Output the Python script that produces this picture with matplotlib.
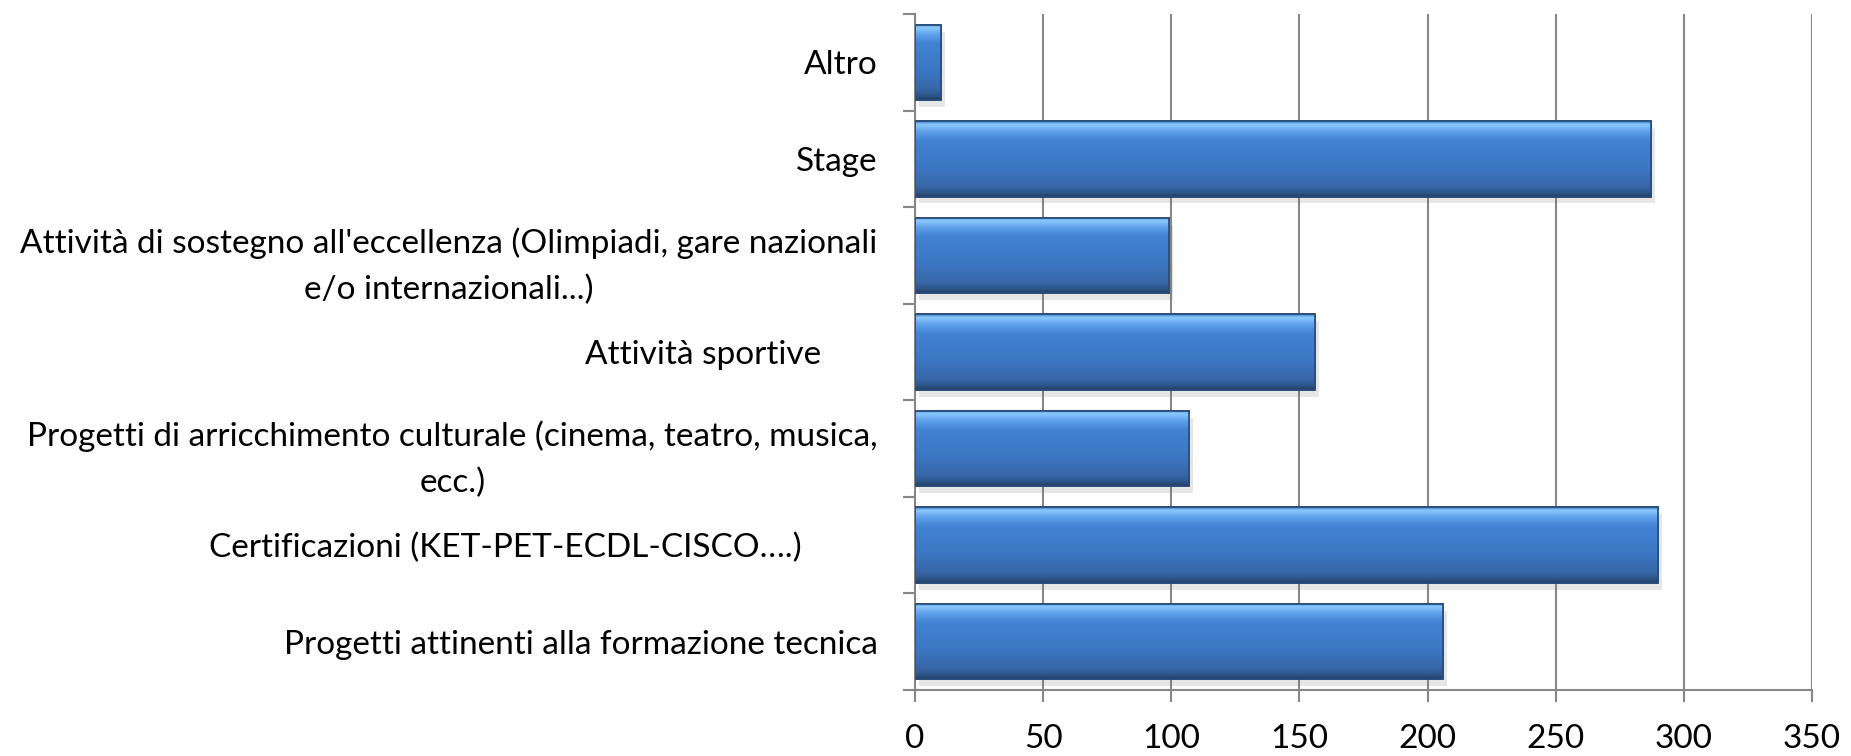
import numpy as np
import matplotlib
matplotlib.use("Agg")
from matplotlib import pyplot as plt
from matplotlib.colors import LinearSegmentedColormap
from matplotlib.transforms import ScaledTranslation
import matplotlib.patheffects as pe

plt.rcParams['font.family'] = ['Lato', 'DejaVu Sans']

# Data (bottom to top)
categories = [
    "Progetti attinenti alla formazione tecnica",
    "Certificazioni (KET-PET-ECDL-CISCO\u2026.)",
    "Progetti di arricchimento culturale (cinema, teatro, musica,\necc.)",
    "Attività sportive",
    "Attività di sostegno all'eccellenza (Olimpiadi, gare nazionali\ne/o internazionali...)",
    "Stage",
    "Altro",
]
values = [206, 290, 107, 156, 99, 287, 10]
x_ticks = [0, 50, 100, 150, 200, 250, 300, 350]

# label shifts to the left, in pixels (the originals had trailing blanks)
label_shift = [0, 76, 0, 56, 0, 0, 0]

W, H = 1851, 756
fig = plt.figure(figsize=(W / 100, H / 100), dpi=100)
ax = fig.add_axes([915 / W, (H - 690) / H, (1812 - 915) / W, (690 - 14) / H])

grey = '#878787'
bar_h = 0.78
y = np.arange(len(categories))

# gradient for the bevelled bars (row 0 = top of bar)
cmap = LinearSegmentedColormap.from_list('bevel', [
    (0.00, '#3a72bd'),
    (0.04, '#8ccaff'),
    (0.14, '#5ea0ea'),
    (0.25, '#4283d4'),
    (0.60, '#3c77c4'),
    (0.86, '#3767a8'),
    (0.93, '#2f5a90'),
    (1.00, '#243f66'),
])
grad = np.linspace(0, 1, 256).reshape(-1, 1)

bars = ax.barh(y, values, height=bar_h, color='#3c78c6', edgecolor='#284b78',
               linewidth=1.2, zorder=2)
for b in bars:
    b.set_path_effects([pe.SimplePatchShadow(offset=(3, -5), shadow_rgbFace='#777777', alpha=0.18),
                        pe.Normal()])
    x0, y0 = b.get_x(), b.get_y()
    w, h = b.get_width(), b.get_height()
    im = ax.imshow(grad, cmap=cmap, extent=(x0, x0 + w, y0, y0 + h), aspect='auto',
                   origin='upper', zorder=2.5, interpolation='bicubic')
    im.set_clip_path(b)
    # outline on top of the gradient
    ax.barh(b.get_y() + h / 2, w, height=h, left=x0, color='none',
            edgecolor='#284b78', linewidth=1.2, zorder=3)

ax.set_xlim(0, 350)
ax.set_ylim(-0.5, len(categories) - 0.5)
ax.set_xticks(x_ticks)
ax.set_xticklabels([str(t) for t in x_ticks], fontsize=24)
ax.set_yticks(y)
ax.set_yticklabels(categories, fontsize=24, multialignment='center', linespacing=1.65)
ax.set_yticks(np.arange(-0.5, len(categories)), minor=True)

ax.tick_params(axis='y', which='major', length=0, pad=27)
ax.tick_params(axis='y', which='minor', length=8.6, width=1.5, color=grey, direction='out')
ax.tick_params(axis='x', length=8.6, width=1.5, color=grey, direction='out', pad=16)

for lbl, dx in zip(ax.get_yticklabels(), label_shift):
    lbl.set_transform(lbl.get_transform() + ScaledTranslation(-dx / 100, 0, fig.dpi_scale_trans))

ax.grid(axis='x', color=grey, linewidth=1.5)
ax.set_axisbelow(True)
for s in ['top', 'right']:
    ax.spines[s].set_visible(False)
for s in ['left', 'bottom']:
    ax.spines[s].set_color(grey)
    ax.spines[s].set_linewidth(1.5)

fig.savefig('out.png', dpi=100)
